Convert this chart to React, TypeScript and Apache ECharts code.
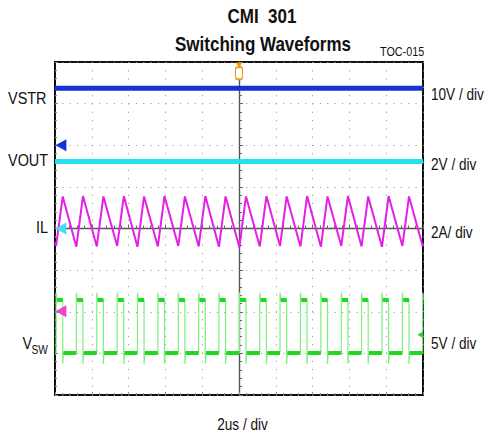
import React, { useEffect, useRef } from "react";
import * as echarts from "echarts";

// Time axis: microseconds relative to trigger (2 us / div, 10 divisions)
const timeTicks = [-10, -8, -6, -4, -2, 0, 2, 4, 6, 8, 10];

// Channel traces in screen divisions relative to centre line
const vstrLevel = 3.37;
const voutLevel = 1.61;

// Inductor current vertices (time us, divisions)
const ilTime = [
  -10, -9.94, -9.58, -8.84, -8.48, -7.73, -7.37, -6.62, -6.26, -5.52, -5.16,
  -4.41, -4.05, -3.3, -2.94, -2.19, -1.83, -1.09, -0.73, 0.02, 0.38, 1.13,
  1.49, 2.23, 2.59, 3.34, 3.7, 4.45, 4.81, 5.56, 5.92, 6.66, 7.02, 7.77, 8.13,
  8.88, 9.24, 9.98, 10,
];
const ilValue = [
  -0.33, -0.42, 0.77, -0.44, 0.78, -0.43, 0.77, -0.42, 0.78, -0.44, 0.77,
  -0.43, 0.78, -0.42, 0.77, -0.43, 0.78, -0.44, 0.77, -0.45, 0.77, -0.43,
  0.78, -0.42, 0.77, -0.43, 0.78, -0.44, 0.77, -0.42, 0.78, -0.43, 0.77,
  -0.44, 0.78, -0.42, 0.77, -0.42, -0.36,
];

// Switch node edges (time us)
const swRise = [
  -9.94, -8.84, -7.73, -6.62, -5.52, -4.41, -3.3, -2.19, -1.09, 0.02, 1.13,
  2.23, 3.34, 4.45, 5.56, 6.66, 7.77, 8.88, 9.98,
];
const swFall = [
  -9.58, -8.48, -7.37, -6.26, -5.16, -4.05, -2.94, -1.83, -0.73, 0.38, 1.49,
  2.59, 3.7, 4.81, 5.92, 7.02, 8.13, 9.24,
];
const swHigh = -1.71;
const swLow = -2.98;
const swOvershoot = -1.54;
const swUndershoot = -3.25;

const FONT = "'Liberation Sans', Arial, Helvetica, sans-serif";

export default function App() {
  const ref = useRef<HTMLDivElement>(null);

  useEffect(() => {
    if (!ref.current) return;
    const chart = echarts.init(ref.current, undefined, { renderer: "svg" });

    const ilData = ilTime.map((t, i) => [t, ilValue[i]]);

    const edge = 0.04;
    const swData: number[][] = [[-10, swLow]];
    const plateaus: any[] = [];
    let prevLowStart = -10;
    swRise.forEach((r, i) => {
      swData.push([r, swLow], [r, swOvershoot], [r + edge, swHigh]);
      plateaus.push({ coords: [[prevLowStart, swLow], [r, swLow]] });
      const f = swFall[i];
      if (f !== undefined) {
        swData.push([f, swHigh], [f, swUndershoot], [f + edge, swLow]);
        plateaus.push({ coords: [[r + edge, swHigh], [f, swHigh]] });
        prevLowStart = f + edge;
      } else {
        swData.push([10, swHigh]);
        plateaus.push({ coords: [[r + edge, swHigh], [10, swHigh]] });
      }
    });

    const text = (
      t: string,
      x: number,
      y: number,
      size: number,
      align: string,
      bold = false,
      sx = 0.9
    ) => ({
      type: "text",
      x,
      y,
      scaleX: sx,
      z: 10,
      style: {
        text: t,
        fontSize: size,
        fontFamily: FONT,
        fontWeight: bold ? "bold" : "normal",
        fill: "#111",
        align,
        verticalAlign: "middle",
        textAlign: align,
        textVerticalAlign: "middle",
      },
    });

    const arrow = (x: number, y: number, color: string, size: number[]) => ({
      coord: [x, y],
      symbol: "triangle",
      symbolRotate: 90,
      symbolSize: size,
      itemStyle: { color },
    });

    const option: any = {
      animation: false,
      backgroundColor: "#fff",
      grid: {
        left: 55,
        top: 62,
        width: 368,
        height: 333,
        show: true,
        borderColor: "#111",
        borderWidth: 2,
        backgroundColor: "#fff",
      },
      xAxis: [
        {
          type: "value",
          min: timeTicks[0],
          max: timeTicks[timeTicks.length - 1],
          interval: 2,
          position: "top",
          axisLine: { onZero: true, lineStyle: { color: "#555", width: 1.4 } },
          axisTick: { show: true, length: 4, lineStyle: { color: "#666" } },
          minorTick: { show: true, splitNumber: 5, length: 3, lineStyle: { color: "#666" } },
          axisLabel: { show: false },
          splitLine: { show: true, lineStyle: { color: "#8f8f8f", width: 1, type: [1, 7.3] } },
        },
        {
          type: "value",
          min: timeTicks[0],
          max: timeTicks[timeTicks.length - 1],
          interval: 2,
          position: "bottom",
          axisLine: { show: false, onZero: false },
          axisTick: { show: true, inside: true, length: 3, lineStyle: { color: "#888" } },
          minorTick: { show: true, splitNumber: 5, length: 2, lineStyle: { color: "#888" } },
          axisLabel: { show: false },
          splitLine: { show: false },
        },
      ],
      yAxis: [
        {
          type: "value",
          min: -4,
          max: 4,
          interval: 1,
          position: "right",
          axisLine: { onZero: true, lineStyle: { color: "#555", width: 1.4 } },
          axisTick: { show: true, length: 4, lineStyle: { color: "#666" } },
          minorTick: { show: true, splitNumber: 5, length: 3, lineStyle: { color: "#666" } },
          axisLabel: { show: false },
          splitLine: { show: true, lineStyle: { color: "#8f8f8f", width: 1, type: [1, 6.36] } },
        },
        {
          type: "value",
          min: -4,
          max: 4,
          interval: 1,
          position: "left",
          axisLine: { show: false, onZero: false },
          axisTick: { show: true, inside: true, length: 3, lineStyle: { color: "#888" } },
          minorTick: { show: true, splitNumber: 5, length: 2, lineStyle: { color: "#888" } },
          axisLabel: { show: false },
          splitLine: { show: false },
        },
      ],
      series: [
        {
          name: "VSTR",
          type: "line",
          xAxisIndex: 0,
          yAxisIndex: 0,
          data: [[-10, vstrLevel], [10, vstrLevel]],
          symbol: "none",
          lineStyle: { color: "#1432d8", width: 5 },
          z: 3,
          markPoint: {
            silent: true,
            label: { show: false },
            data: [
              arrow(-9.68, 2.0, "#1432d8", [12, 11]),
              arrow(-9.68, 0, "#3fe0f5", [12, 11]),
              arrow(-9.68, -1.99, "#f040d0", [12, 11]),
              arrow(9.84, -2.55, "#22cc22", [6, 5]),
              { coord: [0, 4], symbol: "triangle", symbolRotate: 180, symbolSize: [7, 5], symbolOffset: [0, 3], itemStyle: { color: "#f39c12" } },
              { coord: [0, 3.73], symbol: "roundRect", symbolSize: [7, 12], itemStyle: { color: "#fff", borderColor: "#f39c12", borderWidth: 1.5 } },
            ],
          },
        },
        {
          name: "VOUT",
          type: "line",
          xAxisIndex: 0,
          yAxisIndex: 0,
          data: [[-10, voutLevel], [10, voutLevel]],
          symbol: "none",
          lineStyle: { color: "#22e2f0", width: 5 },
          z: 3,
        },
        {
          name: "IL",
          type: "line",
          xAxisIndex: 0,
          yAxisIndex: 0,
          data: ilData,
          symbol: "none",
          lineStyle: { color: "#e61fe6", width: 2 },
          z: 3,
        },
        {
          name: "VSW",
          type: "line",
          xAxisIndex: 0,
          yAxisIndex: 0,
          data: swData,
          symbol: "none",
          lineStyle: { color: "#7cf07c", width: 1.2 },
          z: 3,
        },
        {
          name: "VSW plateaus",
          type: "lines",
          coordinateSystem: "cartesian2d",
          xAxisIndex: 0,
          yAxisIndex: 0,
          data: plateaus,
          lineStyle: { color: "#1fd81f", width: 4, opacity: 1 },
          z: 4,
        },
      ],
      graphic: [
        text("CMI  301", 262, 16, 21, "center", true, 0.81),
        text("Switching Waveforms", 263, 44, 21, "center", true, 0.81),
        text("TOC-015", 380, 52, 12, "left"),
        text("VSTR", 8, 98, 17, "left", false, 0.85),
        text("VOUT", 8, 160, 17, "left", false, 0.85),
        text("IL", 36, 227.5, 17, "left", false, 0.85),
        text("V", 22.5, 343, 17, "left", false, 0.85),
        text("SW", 31.5, 350, 12, "left", false, 0.85),
        text("10V / div", 431, 95, 16, "left", false, 0.85),
        text("2V / div", 431, 165, 16, "left", false, 0.85),
        text("2A/ div", 431, 232.5, 16, "left", false, 0.85),
        text("5V / div", 431, 343.5, 16, "left", false, 0.85),
        text("2us / div", 242.5, 425, 16, "center", false, 0.85),
      ],
    };

    chart.setOption(option);
    return () => chart.dispose();
  }, []);

  return (
    <div
      ref={ref}
      style={{ position: "fixed", left: 0, top: 0, width: 485, height: 438, background: "#fff" }}
    />
  );
}
